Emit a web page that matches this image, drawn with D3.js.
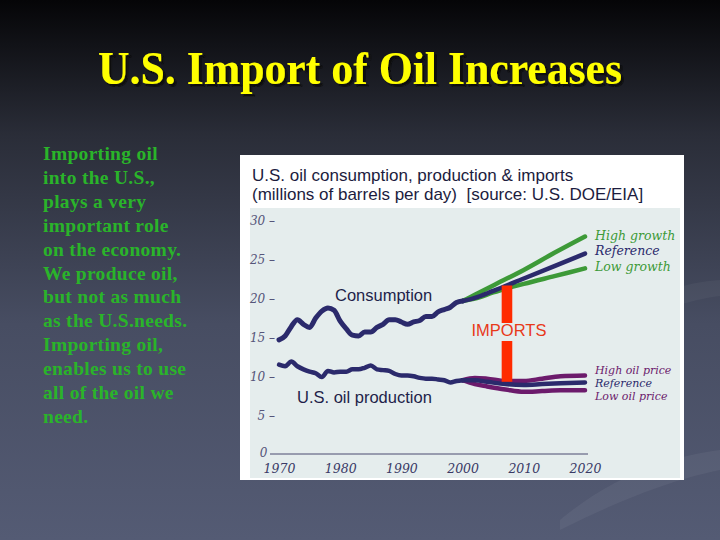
<!DOCTYPE html>
<html>
<head>
<meta charset="utf-8">
<script src="https://cdn.jsdelivr.net/npm/d3@7"></script>
<style>
  html, body { margin: 0; padding: 0; background: #000; }
  svg { display: block; }
</style>
</head>
<body>
<svg id="slide" width="720" height="540"></svg>
<script>
// Data (million barrels per day)
const consYears = [1970, 1971, 1972, 1973, 1974, 1975, 1976, 1977, 1978, 1979, 1980,
  1981, 1982, 1983, 1984, 1985, 1986, 1987, 1988, 1989, 1990, 1991, 1992, 1993,
  1994, 1995, 1996, 1997, 1998, 1999, 2000];
const consumption = [14.7, 15.2, 16.4, 17.3, 16.7, 16.3, 17.5, 18.4, 18.8, 18.5, 17.1,
  16.1, 15.3, 15.2, 15.7, 15.7, 16.3, 16.7, 17.3, 17.3, 17.0, 16.7, 17.0, 17.2,
  17.7, 17.7, 18.3, 18.6, 18.9, 19.5, 19.7];
const production = [11.5, 11.3, 11.9, 11.3, 10.9, 10.6, 10.4, 9.9, 10.7, 10.5, 10.6,
  10.6, 10.9, 10.9, 11.1, 11.4, 10.9, 10.8, 10.7, 10.3, 10.1, 10.1, 10.0, 9.8,
  9.7, 9.7, 9.6, 9.5, 9.2, 9.4, 9.5];

const projYears = [2000, 2002, 2005, 2010, 2015, 2020];
const consHigh = [19.7, 20.5, 21.7, 23.7, 25.9, 28.0];
const consRef = [19.7, 20.1, 21.0, 22.6, 24.2, 25.8];
const consLow = [19.7, 20.0, 20.8, 21.9, 22.9, 23.9];

const prodYears = [2000, 2002, 2004, 2007, 2010, 2013, 2016, 2020];
const prodHigh = [9.5, 9.8, 9.7, 9.4, 9.4, 9.7, 10.0, 10.1];
const prodRef = [9.5, 9.5, 9.3, 9.0, 8.9, 9.0, 9.1, 9.2];
const prodLow = [9.5, 9.0, 8.7, 8.3, 8.0, 8.1, 8.2, 8.2];

// imports bar: year, top (consumption) and bottom (production)
const importsYear = 2007.25;
const importsTop = 21.7;
const importsBottom = 9.3;

const yTicks = [0, 5, 10, 15, 20, 25, 30];
const xTicks = [1970, 1980, 1990, 2000, 2010, 2020];

const bulletLines = ['Importing oil', 'into the U.S.,', 'plays a very', 'important role',
  'on the economy.', 'We produce oil,', 'but not as much', 'as the U.S.needs.',
  'Importing oil,', 'enables us to use', 'all of the oil we', 'need.'];

const NAVY = '#2b2a6c';
const GREEN = '#3d9a38';
const PURPLE = '#6c1b6c';
const RED = '#ff2b00';

const svg = d3.select('#slide');

// slide background
const defs = svg.append('defs');
const grad = defs.append('linearGradient')
  .attr('id', 'bg').attr('x1', 0).attr('y1', 0).attr('x2', 0).attr('y2', 1);
grad.append('stop').attr('offset', '0%').attr('stop-color', '#050507');
grad.append('stop').attr('offset', '25%').attr('stop-color', '#2a2d38');
grad.append('stop').attr('offset', '60%').attr('stop-color', '#474d62');
grad.append('stop').attr('offset', '100%').attr('stop-color', '#545b74');
svg.append('rect').attr('width', 720).attr('height', 540).attr('fill', 'url(#bg)');

const shadow = defs.append('filter').attr('id', 'shadow')
  .attr('x', '-5%').attr('y', '-20%').attr('width', '110%').attr('height', '140%');
shadow.append('feDropShadow')
  .attr('dx', 2.5).attr('dy', 2.5).attr('stdDeviation', 0.6)
  .attr('flood-color', '#111').attr('flood-opacity', 1);

// faint swooshes on the right
svg.append('path')
  .attr('d', 'M560,520 C620,470 680,455 720,450 L720,470 C680,478 630,495 560,530 Z')
  .attr('fill', '#ffffff').attr('opacity', 0.05);
svg.append('path')
  .attr('d', 'M600,330 C650,290 690,282 720,280 L720,296 C690,300 655,310 600,340 Z')
  .attr('fill', '#ffffff').attr('opacity', 0.04);

// slide title
svg.append('text')
  .attr('x', 360)
  .attr('y', 84)
  .attr('text-anchor', 'middle')
  .attr('font-family', '"Liberation Serif", "Times New Roman", serif')
  .attr('font-weight', 'bold')
  .attr('font-size', 46)
  .attr('textLength', 524)
  .attr('lengthAdjust', 'spacingAndGlyphs')
  .attr('fill', '#ffff00')
  .attr('filter', 'url(#shadow)')
  .text('U.S. Import of Oil Increases');

// left-hand text
svg.append('g').selectAll('text')
  .data(bulletLines)
  .join('text')
  .attr('x', 43)
  .attr('y', (d, i) => 160 + i * 23.9)
  .attr('font-family', '"Liberation Serif", "Times New Roman", serif')
  .attr('font-weight', 'bold')
  .attr('font-size', 19.5)
  .attr('letter-spacing', 0.3)
  .attr('fill', '#2ab42a')
  .text(d => d);

// chart frame
svg.append('rect').attr('x', 240).attr('y', 155).attr('width', 444).attr('height', 325)
  .attr('fill', '#ffffff');
svg.append('rect').attr('x', 250).attr('y', 208).attr('width', 430).attr('height', 270)
  .attr('fill', '#e5eded');

const chartTitle = ['U.S. oil consumption, production & imports',
  '(millions of barrels per day)  [source: U.S. DOE/EIA]'];
svg.append('g').selectAll('text')
  .data(chartTitle)
  .join('text')
  .attr('x', 252)
  .attr('y', (d, i) => 181 + i * 19)
  .attr('font-family', '"Liberation Sans", Arial, sans-serif')
  .attr('font-size', 17)
  .attr('fill', '#1c1c3e')
  .style('white-space', 'pre')
  .text(d => d);

const x = d3.scaleLinear().domain([1970, 2020]).range([279, 585]);
const y = d3.scaleLinear().domain([0, 30]).range([454, 221]);

const serifItalic = '"DejaVu Serif", Georgia, serif';

// y axis
const yAxis = svg.append('g')
  .attr('transform', 'translate(275,0)')
  .call(d3.axisLeft(y).tickValues(yTicks).tickSize(0).tickPadding(0)
    .tickFormat(d => d === 0 ? '0  ' : d + ' –'));
yAxis.select('.domain').remove();
yAxis.selectAll('text')
  .attr('font-family', serifItalic)
  .attr('font-style', 'italic')
  .attr('font-size', 12)
  .attr('fill', '#55557a')
  .style('white-space', 'pre');
yAxis.selectAll('.tick').filter(d => d === 0).select('text').attr('dy', '0.2em');

// x axis
const xAxis = svg.append('g')
  .attr('transform', 'translate(0,454)')
  .call(d3.axisBottom(x).tickValues(xTicks).tickSize(0).tickPadding(10)
    .tickFormat(d3.format('d')));
xAxis.select('.domain').remove();
xAxis.selectAll('text')
  .attr('font-family', serifItalic)
  .attr('font-style', 'italic')
  .attr('font-size', 12.5)
  .attr('fill', '#3a3a66');

svg.append('line')
  .attr('x1', 270).attr('x2', 588)
  .attr('y1', y(0)).attr('y2', y(0))
  .attr('stroke', '#4a4a70').attr('stroke-width', 1);

const line = d3.line().x(d => x(d[0])).y(d => y(d[1])).curve(d3.curveMonotoneX);
const zipv = (xs, vs) => xs.map((t, i) => [t, vs[i]]);

const series = [
  { years: projYears, values: consHigh, color: GREEN, w: 4.5 },
  { years: projYears, values: consLow, color: GREEN, w: 4.5 },
  { years: projYears, values: consRef, color: NAVY, w: 4.5 },
  { years: prodYears, values: prodHigh, color: PURPLE, w: 4.5 },
  { years: prodYears, values: prodLow, color: PURPLE, w: 4.5 },
  { years: prodYears, values: prodRef, color: NAVY, w: 4.5 },
  { years: consYears, values: consumption, color: NAVY, w: 5 },
  { years: consYears, values: production, color: NAVY, w: 4.5 }
];

svg.append('g').selectAll('path')
  .data(series)
  .join('path')
  .attr('d', d => line(zipv(d.years, d.values)))
  .attr('fill', 'none')
  .attr('stroke', d => d.color)
  .attr('stroke-width', d => d.w)
  .attr('stroke-linejoin', 'round')
  .attr('stroke-linecap', 'round');

// imports bar with a gap for its label
svg.append('rect')
  .attr('x', x(importsYear) - 5.3)
  .attr('y', y(importsTop))
  .attr('width', 10.6)
  .attr('height', y(importsBottom) - y(importsTop))
  .attr('fill', RED);
svg.append('rect')
  .attr('x', 466).attr('y', 323).attr('width', 86).attr('height', 18)
  .attr('fill', '#e5eded');
svg.append('text')
  .attr('x', x(importsYear) + 2)
  .attr('y', 336)
  .attr('text-anchor', 'middle')
  .attr('font-family', '"Liberation Sans", Arial, sans-serif')
  .attr('font-size', 16.5)
  .attr('fill', '#e8391a')
  .text('IMPORTS');

// big in-chart labels
const sans = '"Liberation Sans", Arial, sans-serif';
svg.append('text').attr('x', 335).attr('y', 301).attr('font-family', sans)
  .attr('font-size', 16.5).attr('fill', '#1f1f4a').text('Consumption');
svg.append('text').attr('x', 297).attr('y', 403).attr('font-family', sans)
  .attr('font-size', 16.5).attr('fill', '#1f1f4a').text('U.S. oil production');

// scenario labels at the right end
const endLabels = [
  { text: 'High growth', v: consHigh[consHigh.length - 1], dy: 3.5, size: 12.5, color: GREEN },
  { text: 'Reference', v: consRef[consRef.length - 1], dy: 1.5, size: 12.5, color: NAVY },
  { text: 'Low growth', v: consLow[consLow.length - 1], dy: 2.5, size: 12.5, color: GREEN },
  { text: 'High oil price', v: prodHigh[prodHigh.length - 1], dy: -1.6, size: 11, color: PURPLE },
  { text: 'Reference', v: prodRef[prodRef.length - 1], dy: 4.5, size: 11, color: NAVY },
  { text: 'Low oil price', v: prodLow[prodLow.length - 1], dy: 9.7, size: 11, color: PURPLE }
];
svg.append('g').selectAll('text')
  .data(endLabels)
  .join('text')
  .attr('x', x(2020) + 10)
  .attr('y', d => y(d.v) + d.dy)
  .attr('font-family', serifItalic)
  .attr('font-style', 'italic')
  .attr('font-size', d => d.size)
  .attr('fill', d => d.color)
  .text(d => d.text);
</script>
</body>
</html>
